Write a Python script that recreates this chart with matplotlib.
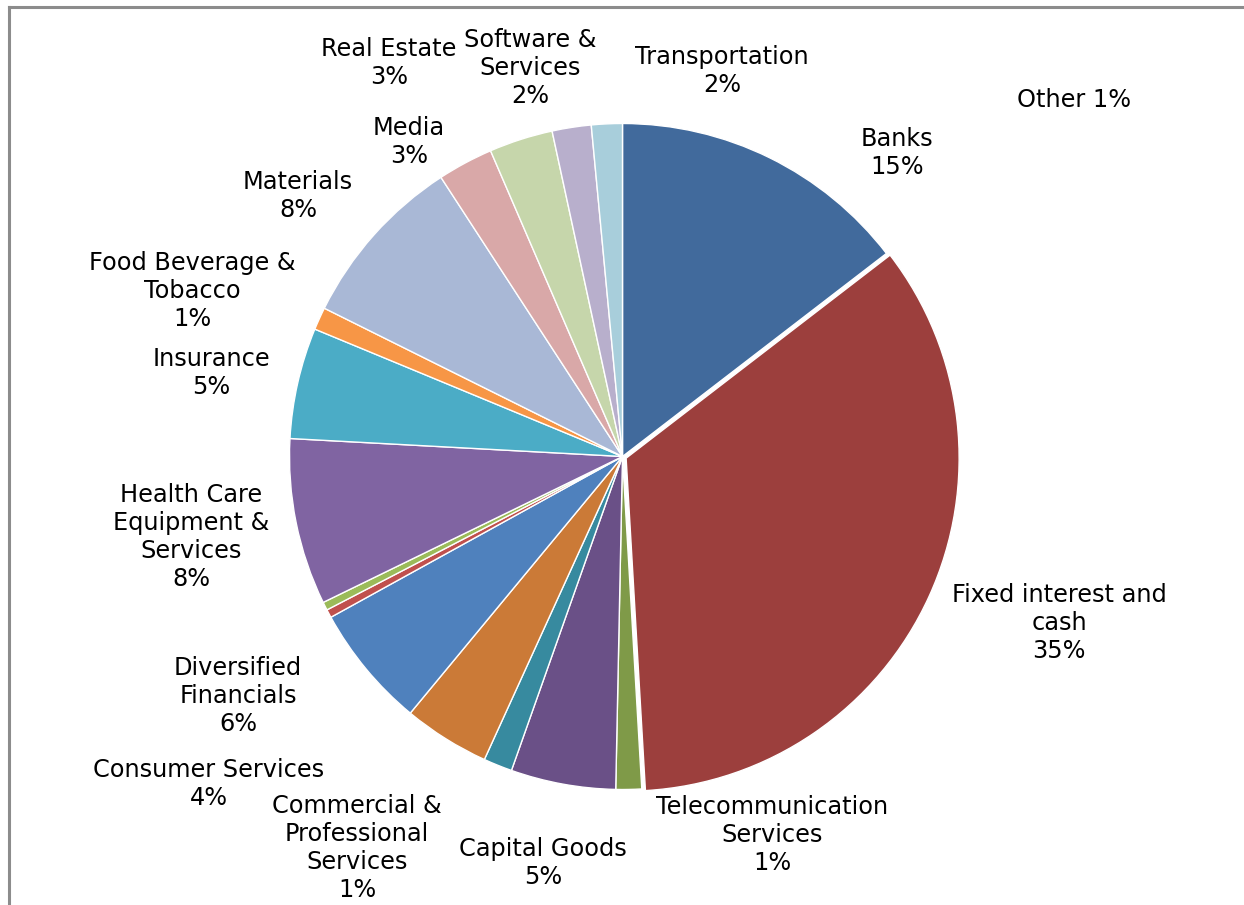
import matplotlib
matplotlib.use("Agg")
import matplotlib.pyplot as plt
from matplotlib.lines import Line2D

# slices clockwise from 12 o'clock
sectors = ["Banks", "Fixed interest and cash", "Telecommunication Services",
           "Capital Goods", "Commercial & Professional Services",
           "Consumer Services", "Diversified Financials", "Household",
           "Other", "Health Care Equipment & Services", "Insurance",
           "Food Beverage & Tobacco", "Materials", "Media", "Real Estate",
           "Software & Services", "Transportation"]
shares = [14.6, 34.6, 1.25, 5.1, 1.4, 4.2, 6.0, 0.4, 0.4, 8.1, 5.4,
          1.1, 8.5, 2.7, 3.1, 1.9, 1.5]
label_text = ["Banks\n15%", "Fixed interest and\ncash\n35%",
              "Telecommunication\nServices\n1%", "Capital Goods\n5%",
              "Commercial &\nProfessional\nServices\n1%",
              "Consumer Services\n4%", "Diversified\nFinancials\n6%", "",
              "Other 1%", "Health Care\nEquipment &\nServices\n8%",
              "Insurance\n5%", "Food Beverage &\nTobacco\n1%",
              "Materials\n8%", "Media\n3%", "Real Estate\n3%",
              "Software &\nServices\n2%", "Transportation\n2%"]

colors = ["#416A9C", "#9C3F3D", "#7F9A48", "#6A5087", "#378A9F", "#CB7A37",
          "#4F81BD", "#C0504D", "#9BBB59", "#8064A2", "#4BACC6", "#F79646",
          "#A9B8D6", "#D9A8A8", "#C6D6AB", "#B8AFCC", "#A8CEDB"]

# label centres in pixels (x from left, y from top)
label_pos = [(897, 153), (1059, 623), (772, 835), (543, 863), (357, 848),
             (209, 784), (238, 696), None, (1074, 100), (191, 537),
             (211, 373), (192, 291), (298, 196), (409, 142), (389, 63),
             (530, 68), (722, 71)]

W, H = 1244, 905
R = 333
fig = plt.figure(figsize=(W / 100, H / 100), dpi=100)
ax = fig.add_axes([0, 0, 1, 1])

# pull the fixed interest slice out a little (explode is in data units here)
explode = [0.012 * R if s == "Fixed interest and cash" else 0 for s in sectors]
ax.pie(shares, colors=colors, startangle=90, counterclock=False,
       center=(622.5, H - 456.5), radius=R, explode=explode,
       wedgeprops=dict(edgecolor="white", linewidth=1), frame=True)
ax.set_xlim(0, W)
ax.set_ylim(0, H)
ax.set_aspect("auto")
ax.axis("off")

for txt, pos in zip(label_text, label_pos):
    if pos is None or not txt:
        continue
    ax.text(pos[0], H - pos[1], txt, ha="center", va="center",
            multialignment="center", fontsize=17.3, linespacing=1.2,
            color="black", family="DejaVu Sans")

# chart frame (only left and top edges are inside the picture)
ax.add_line(Line2D([8.5, 8.5], [0, H - 7.5], color="#8C8C8C", lw=2.2))
ax.add_line(Line2D([8.5, W], [H - 7.5, H - 7.5], color="#8C8C8C", lw=2.2))

fig.savefig("out.png", dpi=100)
